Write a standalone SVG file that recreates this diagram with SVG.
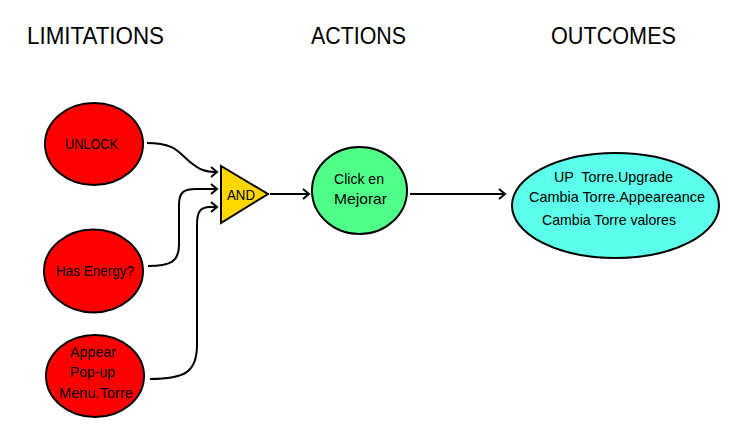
<svg xmlns="http://www.w3.org/2000/svg" width="739" height="431" viewBox="0 0 739 431">
<style>
.title{font-family:"Liberation Sans",Arial,sans-serif;font-size:23px;fill:#000;text-anchor:middle}
.lbl{font-family:"Liberation Sans",Arial,sans-serif;font-size:14.5px;fill:#000;text-anchor:middle;dominant-baseline:central}
.red{fill:#FF0000;stroke:#000;stroke-width:2}
.conn{fill:none;stroke:#000;stroke-width:2}
</style>
<defs>
<marker id="arr" markerWidth="12" markerHeight="12" refX="9" refY="6" orient="auto" markerUnits="userSpaceOnUse">
<polyline points="3,1 9,6 3,11" fill="none" stroke="#000" stroke-width="2"/>
</marker>
</defs>
<rect width="739" height="431" fill="#fff"/>
<text class="title" x="95.5" y="44" textLength="137" lengthAdjust="spacingAndGlyphs">LIMITATIONS</text>
<text class="title" x="358.5" y="44" textLength="95" lengthAdjust="spacingAndGlyphs">ACTIONS</text>
<text class="title" x="613.5" y="44" textLength="125" lengthAdjust="spacingAndGlyphs">OUTCOMES</text>
<g id="connectors">
<path class="conn" d="M147,143 C175,143 178,152 190,162 C200,170 205,172 217,172" marker-end="url(#arr)"/>
<path class="conn" d="M148,266 C170,266 179,262 179,245 L179,205 C179,192 184,189 196,189 L217,189" marker-end="url(#arr)"/>
<path class="conn" d="M150,379 C185,379 197,372 197,345 L197,225 C197,212 200,207 210,207 L217,207" marker-end="url(#arr)"/>
<path class="conn" d="M270,194 L309,194" marker-end="url(#arr)"/>
<path class="conn" d="M410,194 L505,194" marker-end="url(#arr)"/>
</g>
<g id="unlock">
<ellipse class="red" cx="94" cy="144" rx="49" ry="41"/>
<text class="lbl" x="91.5" y="144" textLength="53" lengthAdjust="spacingAndGlyphs">UNLOCK</text>
</g>
<g id="has-energy">
<ellipse class="red" cx="93.5" cy="271" rx="49.5" ry="41.5"/>
<text class="lbl" x="95" y="271" textLength="78" lengthAdjust="spacingAndGlyphs">Has Energy?</text>
</g>
<g id="appear">
<ellipse class="red" cx="95" cy="376" rx="49" ry="41"/>
<text class="lbl" x="93" y="352" textLength="46" lengthAdjust="spacingAndGlyphs">Appear</text>
<text class="lbl" x="92.5" y="372" textLength="45" lengthAdjust="spacingAndGlyphs">Pop-up</text>
<text class="lbl" x="96" y="393" textLength="74" lengthAdjust="spacingAndGlyphs">Menu.Torre</text>
</g>
<g id="and">
<polygon points="221,166 268,194 221,223" fill="#FFD700" stroke="#000" stroke-width="2" stroke-linejoin="miter"/>
<text class="lbl" x="241" y="195" textLength="28" lengthAdjust="spacingAndGlyphs">AND</text>
</g>
<g id="click">
<ellipse cx="359.5" cy="190.5" rx="47.5" ry="43.5" fill="#50FF88" stroke="#000" stroke-width="2"/>
<text class="lbl" x="359" y="179" textLength="50" lengthAdjust="spacingAndGlyphs">Click en</text>
<text class="lbl" x="360.5" y="199" textLength="53" lengthAdjust="spacingAndGlyphs">Mejorar</text>
</g>
<g id="outcomes">
<ellipse cx="615.5" cy="205.5" rx="103.5" ry="52.5" fill="#5CFFEA" stroke="#000" stroke-width="2"/>
<text class="lbl" x="613.5" y="177" xml:space="preserve" textLength="119" lengthAdjust="spacingAndGlyphs">UP  Torre.Upgrade</text>
<text class="lbl" x="617" y="197" textLength="176" lengthAdjust="spacingAndGlyphs">Cambia Torre.Appeareance</text>
<text class="lbl" x="609" y="220" textLength="134" lengthAdjust="spacingAndGlyphs">Cambia Torre valores</text>
</g>
</svg>
